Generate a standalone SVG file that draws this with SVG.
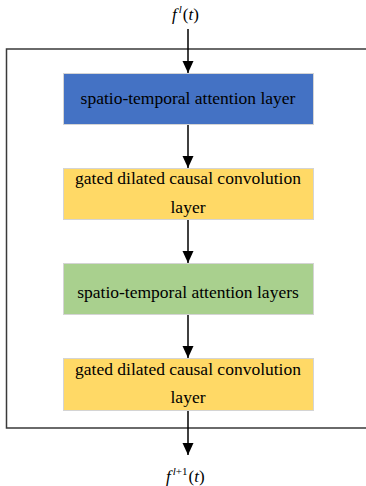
<svg xmlns="http://www.w3.org/2000/svg" width="366" height="486" viewBox="0 0 366 486">
<style>
.box{stroke:#d4d4d4;stroke-width:1}
.t{font-family:"Liberation Serif","Times New Roman",serif;font-size:17.5px;fill:#000;text-anchor:middle}
.m{font-family:"Liberation Serif","Times New Roman",serif;font-size:17px;font-style:italic;fill:#000}
.s{font-size:11px;font-style:italic}
.c{stroke:#000;stroke-width:1.5;fill:none}
</style>
<defs>
<marker id="arr" markerWidth="12" markerHeight="12" refX="12" refY="6" orient="auto" markerUnits="userSpaceOnUse">
<path d="M0,0.5 L12,6 L0,11.5 Z" fill="#000"/>
</marker>
</defs>
<g id="frame" fill="none" stroke="#3a3a3a" stroke-width="1.5">
<path d="M366,49 H6.5 V428 H366"/>
</g>
<g id="connectors">
<line class="c" x1="188" y1="29" x2="188" y2="73" marker-end="url(#arr)"/>
<line class="c" x1="188" y1="124" x2="188" y2="168" marker-end="url(#arr)"/>
<line class="c" x1="188" y1="220" x2="188" y2="263" marker-end="url(#arr)"/>
<line class="c" x1="188" y1="315" x2="188" y2="358" marker-end="url(#arr)"/>
<line class="c" x1="188" y1="411" x2="188" y2="455" marker-end="url(#arr)"/>
</g>
<g id="input"><text x="172" y="20" class="m">f<tspan class="s" dx="2" dy="-7">l</tspan><tspan font-style="normal" dx="1" dy="7">(</tspan>t<tspan font-style="normal">)</tspan></text></g>
<g id="n1"><rect class="box" x="63.5" y="73.5" width="250" height="51" fill="#4472C4"/><text class="t" x="188" y="104">spatio-temporal attention layer</text></g>
<g id="n2"><rect class="box" x="63.5" y="168.5" width="250" height="51" fill="#FFD966"/><text class="t" x="188" y="184">gated dilated causal convolution</text><text class="t" x="188" y="213">layer</text></g>
<g id="n3"><rect class="box" x="63.5" y="263.5" width="250" height="51" fill="#A9D08E"/><text class="t" x="188" y="298">spatio-temporal attention layers</text></g>
<g id="n4"><rect class="box" x="63.5" y="358.5" width="250" height="52" fill="#FFD966"/><text class="t" x="188" y="375">gated dilated causal convolution</text><text class="t" x="188" y="403">layer</text></g>
<g id="output"><text x="166" y="482" class="m">f<tspan class="s" dx="2" dy="-7">l</tspan><tspan font-size="11" font-style="normal" dy="0">+1</tspan><tspan font-style="normal" dx="1" dy="7">(</tspan>t<tspan font-style="normal">)</tspan></text></g>
</svg>
